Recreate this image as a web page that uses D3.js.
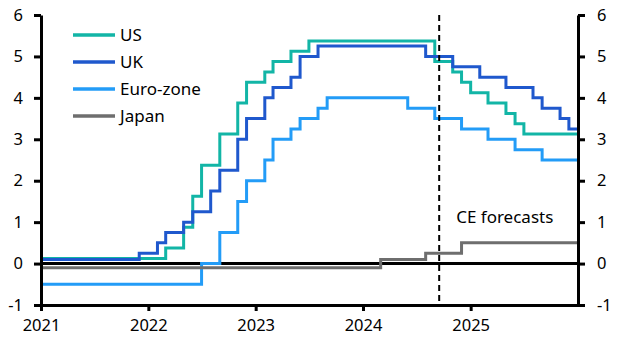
<!DOCTYPE html>
<html>
<head>
<meta charset="utf-8">
<script src="https://cdn.jsdelivr.net/npm/d3@7"></script>
<style>
  body { margin: 0; background: #fff; }
  svg { display: block; font-family: "Noto Sans", sans-serif; }
</style>
</head>
<body>
<div id="chart"></div>
<script>
// Policy rates, step changes (month the new rate applies, rate %).
const us = [
  ["2021-01", 0.125], ["2022-03", 0.375], ["2022-05", 0.875], ["2022-06", 1.625],
  ["2022-07", 2.375], ["2022-09", 3.125], ["2022-11", 3.875], ["2022-12", 4.375],
  ["2023-02", 4.625], ["2023-03", 4.875], ["2023-05", 5.125], ["2023-07", 5.375],
  ["2024-09", 4.875], ["2024-11", 4.625], ["2024-12", 4.375], ["2025-01", 4.125],
  ["2025-03", 3.875], ["2025-05", 3.625], ["2025-06", 3.375], ["2025-07", 3.125]
];
const uk = [
  ["2021-01", 0.1], ["2021-12", 0.25], ["2022-02", 0.5], ["2022-03", 0.75],
  ["2022-05", 1.0], ["2022-06", 1.25], ["2022-08", 1.75], ["2022-09", 2.25],
  ["2022-11", 3.0], ["2022-12", 3.5], ["2023-02", 4.0], ["2023-03", 4.25],
  ["2023-05", 4.5], ["2023-06", 5.0], ["2023-08", 5.25], ["2024-08", 5.0],
  ["2024-11", 4.75], ["2025-02", 4.5], ["2025-05", 4.25], ["2025-08", 4.0],
  ["2025-09", 3.75], ["2025-11", 3.5], ["2025-12", 3.25]
];
const euroZone = [
  ["2021-01", -0.5], ["2022-07", 0], ["2022-09", 0.75], ["2022-11", 1.5],
  ["2022-12", 2.0], ["2023-02", 2.5], ["2023-03", 3.0], ["2023-05", 3.25],
  ["2023-06", 3.5], ["2023-08", 3.75], ["2023-09", 4.0], ["2024-06", 3.75],
  ["2024-09", 3.5], ["2024-12", 3.25], ["2025-03", 3.0], ["2025-06", 2.75],
  ["2025-09", 2.5]
];
const japan = [
  ["2021-01", -0.1], ["2024-03", 0.1], ["2024-08", 0.25], ["2024-12", 0.5]
];

const seriesNames = ["US", "UK", "Euro-zone", "Japan"];
const seriesColors = ["#12b5a6", "#1f58cd", "#239cf7", "#6e6e6e"];
const yTicks = [-1, 0, 1, 2, 3, 4, 5, 6];
const xTickYears = [2021, 2022, 2023, 2024, 2025];
const endMonth = "2026-01";
const forecastStart = "2024-09-16";
const forecastLabel = "CE forecasts";

const width = 628, height = 353;
const parseMonth = d3.timeParse("%Y-%m");
const parseDay = d3.timeParse("%Y-%m-%d");

const x = d3.scaleTime()
    .domain([parseMonth("2021-01"), parseMonth(endMonth)])
    .range([41, 578]);
const y = d3.scaleLinear()
    .domain([-1, 6])
    .range([305, 15]);

const svg = d3.select("#chart").append("svg")
    .attr("width", width)
    .attr("height", height)
    .attr("viewBox", [0, 0, width, height]);

// Zero line
svg.append("line")
    .attr("x1", x.range()[0]).attr("x2", x.range()[1])
    .attr("y1", y(0)).attr("y2", y(0))
    .attr("stroke", "#000").attr("stroke-width", 3);

// Build step lines, extended to the right edge.
const line = d3.line()
    .x(d => x(d.date))
    .y(d => y(d.value))
    .curve(d3.curveStepAfter);

const allSeries = [us, uk, euroZone, japan].map((s, i) => {
    const pts = s.map(([m, v]) => ({date: parseMonth(m), value: v}));
    pts.push({date: parseMonth(endMonth), value: s[s.length - 1][1]});
    return {name: seriesNames[i], color: seriesColors[i], points: pts};
});

svg.selectAll(".series")
    .data(allSeries)
    .enter()
    .append("path")
    .attr("class", "series")
    .attr("fill", "none")
    .attr("stroke", d => d.color)
    .attr("stroke-width", 3)
    .attr("d", d => line(d.points));

// Forecast divider
const fx = x(parseDay(forecastStart));
svg.append("line")
    .attr("x1", fx).attr("x2", fx)
    .attr("y1", y(6)).attr("y2", y(-1))
    .attr("stroke", "#000").attr("stroke-width", 2)
    .attr("stroke-dasharray", "6,4");

svg.append("text")
    .attr("x", fx + 17)
    .attr("y", y(1) + 0.5)
    .attr("font-size", 17)
    .attr("fill", "#000")
    .text(forecastLabel);

// Axes
function styleAxis(g) {
    g.select(".domain").attr("stroke", "#000").attr("stroke-width", 3);
    g.selectAll(".tick line").attr("stroke", "#000").attr("stroke-width", 3);
    g.selectAll(".tick text").attr("fill", "#000").attr("font-size", 16.5)
        .attr("font-family", "Noto Sans, sans-serif");
}

svg.append("g")
    .attr("transform", `translate(${x.range()[0]},0)`)
    .call(d3.axisLeft(y).tickValues(yTicks).tickFormat(d => String(d))
        .tickSize(7).tickSizeOuter(0).tickPadding(11))
    .call(styleAxis);

svg.append("g")
    .attr("transform", `translate(${x.range()[1]},0)`)
    .call(d3.axisRight(y).tickValues(yTicks).tickFormat(d => String(d))
        .tickSize(7).tickSizeOuter(0).tickPadding(12))
    .call(styleAxis);

svg.append("g")
    .attr("transform", `translate(0,${y(-1)})`)
    .call(d3.axisBottom(x).tickValues(xTickYears.map(yr => new Date(yr, 0, 1)))
        .tickFormat(d3.timeFormat("%Y"))
        .tickSize(6).tickSizeOuter(0).tickPadding(8))
    .call(styleAxis);

// Legend
const legend = svg.append("g")
    .attr("transform", "translate(73,35)");
const items = legend.selectAll(".legend-item")
    .data(allSeries)
    .enter()
    .append("g")
    .attr("class", "legend-item")
    .attr("transform", (d, i) => `translate(0,${i * 27})`);
items.append("line")
    .attr("x1", 0).attr("x2", 42)
    .attr("stroke", d => d.color)
    .attr("stroke-width", 3.5);
items.append("text")
    .attr("x", 47)
    .attr("dy", "0.36em")
    .attr("font-size", 17)
    .attr("fill", "#000")
    .text(d => d.name);
</script>
</body>
</html>
